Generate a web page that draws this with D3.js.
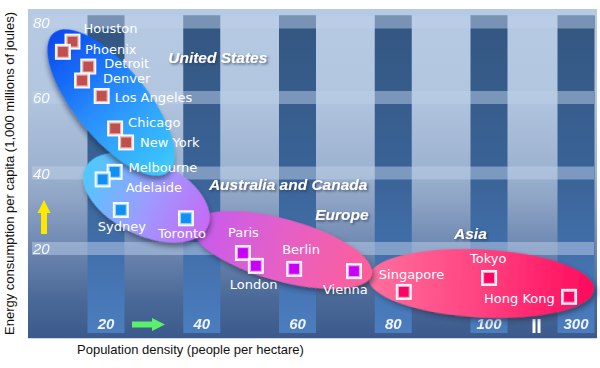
<!DOCTYPE html>
<html><head><meta charset="utf-8">
<script src="https://cdn.jsdelivr.net/npm/d3@7"></script>
<style>body{margin:0;background:#fff}</style>
</head><body><svg id="chart" width="600" height="368"></svg>
<script>
// ---------- data ----------
const cities = ["Houston","Phoenix","Detroit","Denver","Los Angeles","Chicago","New York","Melbourne","Adelaide","Sydney","Toronto","Paris","London","Berlin","Vienna","Singapore","Tokyo","Hong Kong"];
const density = [13.0,11.0,16.3,15.0,19.1,21.9,24.2,21.8,19.3,23.1,36.7,48.6,51.3,59.3,71.8,82.2,100.2,284];
const energy = [74.8,72.1,68.2,64.5,60.4,51.8,48.1,40.3,38.3,30.2,28.0,18.8,15.4,14.6,14.0,8.5,12.2,7.2];
const cityRegion = [0,0,0,0,0,0,0,1,1,1,1,2,2,2,2,3,3,3];
const regions = ["United States","Australia and Canada","Europe","Asia"];
// region ellipse major-axis end points (density, energy)
const regionFrom = [[9.1,77.1],[15.7,41.35],[38.0,26.2],[74.8,12.3]];
const regionTo = [[33.0,40.3],[41.2,25.7],[75.5,13.0],[340.9,9.2]];
// region title anchors (density, energy)
const regionLabelAt = [[33.0,69.1],[41.5,35.5],[63.7,27.5],[92.7,22.5]];
const xTicks = [20,40,60,80,100,300];
const xTickLabels = ["20","40","60","80","100","300"];
const yTicks = [20,40,60,80];
const yTickLabels = ["20","40","60","80"];
const xTitle = "Population density (people per hectare)";
const yTitle = "Energy consumption per capita (1,000 millions of joules)";

// ---------- layout / style ----------
const labelOffset = [[11,-9],[22,2],[16,1],[21,2],[13,6],[13,-1],[14,5],[14,0],[23,13],[-23,21],[-28,20],[-15,-16],[-26,23],[-12,-15],[-31,23],[-25,-13],[-19,-15],[-85,6]];
const regionMinor = [36,38,31,34];
const regionGrad = [["#0648ef","#2a8ffd","#3dcbfb"],["#4ccafd","#9a9dff","#c66af5"],["#c45cf0","#e55fc6","#ff5f97"],["#ff709e","#ff4280","#ff0a5c"]];
const markerFill = ["#c0504d","#1090f4","#c800f6","#ff0064"];
const markerRing = ["#eeb4b4","#9fd4ff","#e7a0ff","#ffa0c4"];
const drawOrder = [3,2,1,0];

const svg = d3.select("#chart");
const x = d3.scaleLinear().domain([20,100,300]).range([106,489,576]);
const y = d3.scaleLinear().domain([0,80]).range([324,22]);

const defs = svg.append("defs");
const bg = defs.append("linearGradient").attr("id","bg").attr("x1",0).attr("y1",0).attr("x2",0).attr("y2",1);
[[0,"#b7cae3"],[0.25,"#b2c6e0"],[0.49,"#9db2d0"],[0.58,"#8ea4c5"],[0.73,"#6c86b0"],[0.88,"#4b6998"],[1,"#3b5a8b"]]
  .forEach(s=>bg.append("stop").attr("offset",s[0]).attr("stop-color",s[1]));
const cg = defs.append("linearGradient").attr("id","col").attr("x1",0).attr("y1",0).attr("x2",0).attr("y2",1);
[[0,"#33567f"],[0.5,"#3a6397"],[1,"#4b7dbf"]].forEach(s=>cg.append("stop").attr("offset",s[0]).attr("stop-color",s[1]));
regionGrad.forEach((g,i)=>{
  const lg = defs.append("linearGradient").attr("id","rg"+i).attr("x1",0).attr("y1",0).attr("x2",1).attr("y2",0);
  g.forEach((c,j)=>lg.append("stop").attr("offset",j/(g.length-1)).attr("stop-color",c));
});
const sh = defs.append("filter").attr("id","shadow").attr("x","-20%").attr("y","-20%").attr("width","140%").attr("height","140%");
sh.append("feDropShadow").attr("dx",3).attr("dy",3).attr("stdDeviation",2.5).attr("flood-color","#1a2540").attr("flood-opacity",0.55);
const tsh = defs.append("filter").attr("id","tshadow").attr("x","-10%").attr("y","-30%").attr("width","130%").attr("height","180%");
tsh.append("feDropShadow").attr("dx",1.5).attr("dy",1.5).attr("stdDeviation",0.8).attr("flood-color","#2a3550").attr("flood-opacity",0.7);

// panel
const px0 = 28, px1 = 597, py0 = 9, py1 = 338;
svg.append("rect").attr("x",px0).attr("y",py0).attr("width",px1-px0).attr("height",py1-py0).attr("fill","url(#bg)");
svg.append("line").attr("x1",px0).attr("x2",px1).attr("y1",py1+0.5).attr("y2",py1+0.5).attr("stroke","#cbd7e6").attr("stroke-width",1);

// columns
const colW = 37, bandH = 13;
svg.append("g").selectAll("rect").data(xTicks).join("rect")
  .attr("x",d=>x(d)-colW/2).attr("width",colW)
  .attr("y",y(80)-bandH/2).attr("height",333-(y(80)-bandH/2))
  .attr("fill","url(#col)");
// horizontal bands
svg.append("g").selectAll("rect").data(yTicks).join("rect")
  .attr("x",32).attr("width",594-32)
  .attr("y",d=>y(d)-bandH/2).attr("height",bandH)
  .attr("fill","#bdd0e9").attr("opacity",0.5);

// y tick labels
svg.append("g").selectAll("text").data(yTicks).join("text")
  .attr("x",33).attr("y",d=>y(d)+5.5)
  .attr("font-family","Liberation Sans, Arial, sans-serif").attr("font-style","italic")
  .attr("font-size",15).attr("fill","#ffffff").attr("opacity",0.92)
  .text((d,i)=>yTickLabels[i]);
// x tick labels
svg.append("g").selectAll("text").data(xTicks).join("text")
  .attr("x",d=>x(d)).attr("y",329).attr("text-anchor","middle")
  .attr("font-family","Liberation Sans, Arial, sans-serif").attr("font-style","italic").attr("font-weight","bold")
  .attr("font-size",15).attr("fill","#ffffff").attr("opacity",0.92)
  .text((d,i)=>xTickLabels[i]);

// axis break mark
const bx = (x(100)+x(300))/2;
svg.append("rect").attr("x",bx).attr("y",319).attr("width",3).attr("height",14).attr("fill","#fff");
svg.append("rect").attr("x",bx+5).attr("y",319).attr("width",3).attr("height",14).attr("fill","#fff");

// arrows
svg.append("path").attr("d","M132,321.5 H152 V318 L165,324.5 L152,331 V327.5 H132 Z").attr("fill","#5af06a");
svg.append("path").attr("d","M44,200 L50.5,213 H47 V234 H41 V213 H37.5 Z").attr("fill","#ffe800");

// region ellipses
const eg = svg.append("g");
drawOrder.forEach(i=>{
  const a = [x(regionFrom[i][0]), y(regionFrom[i][1])];
  const b = [x(regionTo[i][0]), y(regionTo[i][1])];
  const cx = (a[0]+b[0])/2, cy = (a[1]+b[1])/2;
  const rx = Math.hypot(b[0]-a[0], b[1]-a[1])/2;
  const ang = Math.atan2(b[1]-a[1], b[0]-a[0])*180/Math.PI;
  eg.append("ellipse").attr("cx",0).attr("cy",0).attr("rx",rx).attr("ry",regionMinor[i])
    .attr("transform",`translate(${cx},${cy}) rotate(${ang})`)
    .attr("fill",`url(#rg${i})`).attr("filter","url(#shadow)");
});

// region titles
svg.append("g").selectAll("text").data(regions).join("text")
  .attr("x",(d,i)=>x(regionLabelAt[i][0])).attr("y",(d,i)=>y(regionLabelAt[i][1]))
  .attr("font-family","Liberation Sans, Arial, sans-serif").attr("font-style","italic").attr("font-weight","bold")
  .attr("font-size",15.5).attr("fill","#ffffff").attr("filter","url(#tshadow)")
  .text(d=>d);

// markers
const mg = svg.append("g").selectAll("g").data(cities).join("g")
  .attr("transform",(d,i)=>`translate(${x(density[i])},${y(energy[i])})`);
mg.append("rect").attr("x",-8).attr("y",-8).attr("width",16).attr("height",16).attr("fill","#ffffff").attr("opacity",0.95);
mg.append("rect").attr("x",-5.5).attr("y",-5.5).attr("width",11).attr("height",11)
  .attr("fill",(d,i)=>markerFill[cityRegion[i]]).attr("stroke",(d,i)=>markerRing[cityRegion[i]]).attr("stroke-width",1.2);

// city labels
svg.append("g").selectAll("text").data(cities).join("text")
  .attr("x",(d,i)=>x(density[i])+labelOffset[i][0]).attr("y",(d,i)=>y(energy[i])+labelOffset[i][1])
  .attr("font-family","DejaVu Sans, sans-serif").attr("font-size",13).attr("fill","#ffffff")
  .text(d=>d);

// axis titles
svg.append("text").attr("x",77).attr("y",354)
  .attr("font-family","Liberation Sans, Arial, sans-serif").attr("font-size",13).attr("fill","#111")
  .text(xTitle);
svg.append("text").attr("transform","translate(14,173.5) rotate(-90)").attr("text-anchor","middle")
  .attr("font-family","Liberation Sans, Arial, sans-serif").attr("font-size",13).attr("fill","#111")
  .text(yTitle);
</script></body></html>
